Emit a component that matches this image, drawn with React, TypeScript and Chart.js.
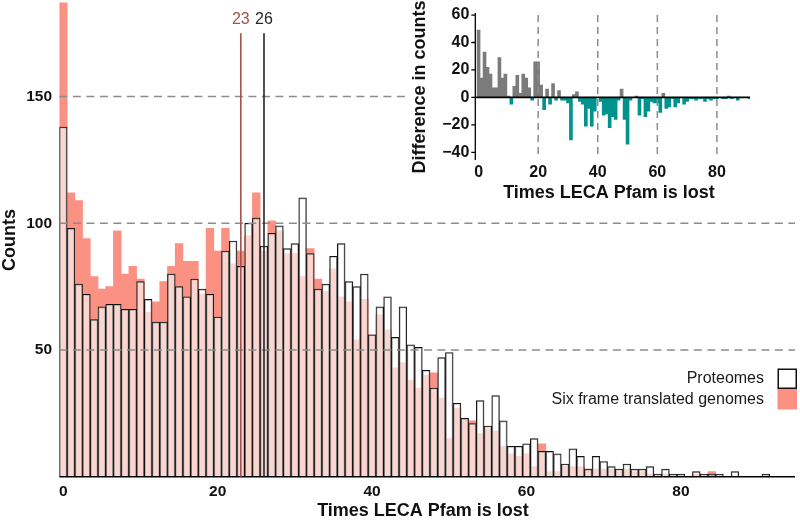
import React, { useEffect, useRef } from 'react';
import { Chart, registerables } from 'chart.js';

Chart.register(...registerables);

// ---------- data ----------
const bins = [
  0, 1, 2, 3, 4, 5, 6, 7, 8, 9, 10, 11, 12, 13, 14, 15, 16, 17, 18, 19,
  20, 21, 22, 23, 24, 25, 26, 27, 28, 29, 30, 31, 32, 33, 34, 35, 36, 37, 38, 39,
  40, 41, 42, 43, 44, 45, 46, 47, 48, 49, 50, 51, 52, 53, 54, 55, 56, 57, 58, 59,
  60, 61, 62, 63, 64, 65, 66, 67, 68, 69, 70, 71, 72, 73, 74, 75, 76, 77, 78, 79,
  80, 81, 82, 83, 84, 85, 86, 87, 88, 89, 90, 91,
];

const proteomes = [
  138, 98, 76, 72, 62, 67, 68, 68, 66, 66,
  77, 70, 61, 61, 80, 75, 71, 78, 74, 72,
  63, 89, 93, 83, 100, 102, 91, 96, 99, 90,
  92, 110, 88, 74, 76, 87, 92, 77, 75, 80,
  56, 67, 71, 55, 67, 52, 51, 42, 35, 47,
  49, 29, 23, 21, 30, 20, 32, 22, 12, 12,
  13, 15, 10, 10, 9, 5, 11, 8, 3, 8,
  6, 4, 3, 5, 3, 3, 4, 1, 3, 1,
  1, 0, 2, 1, 1, 1, 0, 2, 0, 0,
  0, 1,
];

const sixFrame = [
  187, 112, 109, 94, 79, 74, 75, 97, 80, 83,
  78, 65, 69, 77, 83, 92, 85, 85, 72, 98,
  89, 98, 84, 89, 95, 112, 89, 101, 97, 88,
  88, 79, 90, 78, 73, 82, 71, 69, 54, 70,
  56, 64, 58, 43, 45, 38, 35, 40, 41, 31,
  15, 27, 23, 22, 17, 19, 18, 12, 9, 8,
  9, 4, 13, 2, 2, 4, 4, 4, 3, 3,
  3, 3, 2, 3, 2, 2, 1, 0, 1, 0,
  0, 0, 1, 0, 2, 0, 0, 0, 0, 0,
  0, 0,
];

// inset: six frame minus proteomes
const difference = [
  49, 14, 33, 22, 17, 7, 7, 29, 14, 17,
  1, -5, 8, 16, 3, 17, 14, 7, -2, 26,
  26, 9, -9, 6, -5, 10, -2, 5, -2, -2,
  -4, -31, 2, 4, -3, -5, -21, -8, -21, -10,
  0, -3, -13, -12, -22, -14, -16, -2, 6, -16,
  -34, -2, 0, 1, -13, -1, -14, -10, -3, -4,
  -4, -11, 3, -8, -7, -1, -7, -4, 0, -5,
  -3, -1, -1, -2, -1, -1, -3, -1, -2, -1,
  -1, 0, -1, -1, 1, -1, 0, -2, 0, 0,
  0, -1,
];

const mainYTicks = [50, 100, 150];
const xTicks = [0, 20, 40, 60, 80];
const insetYTicks = [60, 40, 20, 0, -20, -40];
const medians = [
  { value: 23, label: '23', color: '#a4514a' },
  { value: 26, label: '26', color: '#262626' },
];
const legendItems = [
  { label: 'Proteomes', fill: '#ffffff', stroke: '#111111' },
  { label: 'Six frame translated genomes', fill: 'rgb(250,145,130)', stroke: null },
];

const FONT = '"Liberation Sans", Arial, Helvetica, sans-serif';
const SALMON = 'rgb(250,145,130)';
const OVERLAY = 'rgba(255,255,255,0.62)';
const GRID = '#8c8c8c';
const TEXT = '#111111';

function drawText(ctx: any, str: string, x: number, y: number, font: string, color: string, align: string = 'center', rot: number = 0) {
  ctx.save();
  ctx.font = font;
  ctx.fillStyle = color;
  ctx.textAlign = align;
  ctx.textBaseline = 'middle';
  ctx.translate(x, y);
  if (rot) ctx.rotate(rot);
  ctx.fillText(str, 0, 0);
  ctx.restore();
}

const mainDecor = {
  id: 'mainDecor',
  afterDatasetsDraw(chart: any) {
    const { ctx, chartArea: a, scales } = chart;
    const x = scales.x;
    const y = scales.y;
    ctx.save();
    // dashed horizontal reference lines
    ctx.strokeStyle = GRID;
    ctx.lineWidth = 1.5;
    ctx.setLineDash([8, 5.5]);
    for (const v of mainYTicks) {
      const py = y.getPixelForValue(v);
      ctx.beginPath();
      ctx.moveTo(a.left, py);
      ctx.lineTo(a.right, py);
      ctx.stroke();
    }
    ctx.setLineDash([]);
    // x axis line
    const y0 = y.getPixelForValue(0);
    ctx.strokeStyle = '#000';
    ctx.lineWidth = 1.5;
    ctx.beginPath();
    ctx.moveTo(a.left, y0);
    ctx.lineTo(a.right, y0);
    ctx.stroke();
    // median lines
    for (const m of medians) {
      const px = x.getPixelForValue(m.value);
      ctx.strokeStyle = m.color;
      ctx.lineWidth = 1.6;
      ctx.beginPath();
      ctx.moveTo(px, y.getPixelForValue(175));
      ctx.lineTo(px, y0);
      ctx.stroke();
      drawText(ctx, m.label, px, y.getPixelForValue(180.5), `16px ${FONT}`, m.color);
    }
    ctx.restore();

    // tick labels
    for (const v of mainYTicks) {
      drawText(ctx, String(v), 52, y.getPixelForValue(v), `bold 15.5px ${FONT}`, TEXT, 'right');
    }
    for (const v of xTicks) {
      drawText(ctx, String(v), x.getPixelForValue(v), 492, `bold 15.5px ${FONT}`, TEXT);
    }
    drawText(ctx, 'Times LECA Pfam is lost', 423, 511, `bold 18px ${FONT}`, TEXT);
    drawText(ctx, 'Counts', 10, 240, `bold 18px ${FONT}`, TEXT, 'center', -Math.PI / 2);

    // legend
    const boxX = 777.5;
    const boxW = 19.5;
    const boxH = 20.5;
    legendItems.forEach((it, i) => {
      const top = 368.5 + i * boxH;
      ctx.save();
      ctx.fillStyle = it.fill;
      ctx.fillRect(boxX, top, boxW, boxH);
      if (it.stroke) {
        ctx.strokeStyle = it.stroke;
        ctx.lineWidth = 1.5;
        ctx.strokeRect(boxX + 0.75, top + 0.75, boxW - 1.5, boxH - 1.5);
      }
      ctx.restore();
      drawText(ctx, it.label, 764, top + boxH / 2, `16px ${FONT}`, '#1a1a1a', 'right');
    });
  },
};

const insetDecor = {
  id: 'insetDecor',
  afterDatasetsDraw(chart: any) {
    const { ctx, chartArea: a, scales } = chart;
    const x = scales.x;
    const y = scales.y;
    ctx.save();
    ctx.strokeStyle = GRID;
    ctx.lineWidth = 1.5;
    ctx.setLineDash([7, 5]);
    for (const v of xTicks) {
      if (v === 0) continue;
      const px = x.getPixelForValue(v);
      ctx.beginPath();
      ctx.moveTo(px, a.top + 2);
      ctx.lineTo(px, a.bottom - 4);
      ctx.stroke();
    }
    ctx.setLineDash([]);
    ctx.strokeStyle = '#000';
    ctx.lineWidth = 1.6;
    const y0 = y.getPixelForValue(0);
    ctx.beginPath();
    ctx.moveTo(a.left, y0);
    ctx.lineTo(a.right, y0);
    ctx.stroke();
    // y axis with ticks
    ctx.lineWidth = 1.3;
    ctx.beginPath();
    ctx.moveTo(a.left, a.top);
    ctx.lineTo(a.left, a.bottom);
    for (const v of insetYTicks) {
      const py = y.getPixelForValue(v);
      ctx.moveTo(a.left - 4, py);
      ctx.lineTo(a.left, py);
    }
    ctx.stroke();
    ctx.restore();

    for (const v of insetYTicks) {
      const lbl = v < 0 ? '\u2212' + String(-v) : String(v);
      drawText(ctx, lbl, a.left - 6, y.getPixelForValue(v), `bold 16px ${FONT}`, TEXT, 'right');
    }
    for (const v of xTicks) {
      drawText(ctx, String(v), x.getPixelForValue(v), 173, `bold 16px ${FONT}`, TEXT);
    }
    drawText(ctx, 'Times LECA Pfam is lost', 199, 193.5, `bold 18px ${FONT}`, TEXT);
    drawText(ctx, 'Difference in counts', 10.5, 87, `bold 18px ${FONT}`, TEXT, 'center', -Math.PI / 2);
  },
};

function onlyTicks(values: number[]) {
  return (scale: any) => {
    scale.ticks = values.map((v) => ({ value: v }));
  };
}

export default function App() {
  const mainRef = useRef<HTMLCanvasElement>(null);
  const insetRef = useRef<HTMLCanvasElement>(null);

  useEffect(() => {
    const main = new Chart(mainRef.current as HTMLCanvasElement, {
      type: 'bar',
      data: {
        datasets: [
          {
            label: 'Proteomes',
            data: bins.map((b, i) => ({ x: b, y: proteomes[i] })),
            backgroundColor: OVERLAY,
            borderColor: '#111111',
            borderWidth: 1,
            borderSkipped: 'start',
            order: 0,
            grouped: false,
            barPercentage: 1,
            categoryPercentage: 1,
          } as any,
          {
            label: 'Six frame translated genomes',
            data: bins.map((b, i) => ({ x: b, y: sixFrame[i] })),
            backgroundColor: SALMON,
            borderWidth: 0,
            order: 1,
            grouped: false,
            barPercentage: 1,
            categoryPercentage: 1,
          } as any,
        ],
      },
      options: {
        animation: false,
        responsive: false,
        events: [],
        layout: { padding: { left: 59.4, right: 5, top: 0, bottom: 43.3 } },
        plugins: { legend: { display: false }, tooltip: { enabled: false } },
        scales: {
          x: { type: 'linear', offset: false, min: -0.5, max: 94.78, display: false, afterBuildTicks: onlyTicks(xTicks) },
          y: { type: 'linear', min: 0, max: 188.1, display: false, afterBuildTicks: onlyTicks(mainYTicks) },
        },
      } as any,
      plugins: [mainDecor],
    });

    const inset = new Chart(insetRef.current as HTMLCanvasElement, {
      type: 'bar',
      data: {
        datasets: [
          {
            label: 'Difference',
            data: bins.map((b, i) => ({ x: b, y: difference[i] })),
            backgroundColor: difference.map((d) => (d >= 0 ? '#7b7b7b' : '#00938e')),
            borderWidth: 0,
            barPercentage: 1,
            categoryPercentage: 1,
          } as any,
        ],
      },
      options: {
        animation: false,
        responsive: false,
        events: [],
        layout: { padding: { left: 65.3, right: 50, top: 13, bottom: 46 } },
        plugins: { legend: { display: false }, tooltip: { enabled: false } },
        scales: {
          x: { type: 'linear', offset: false, min: -1.1, max: 91.1, display: false, afterBuildTicks: onlyTicks(xTicks) },
          y: { type: 'linear', min: -45.6, max: 61.5, display: false, afterBuildTicks: onlyTicks(insetYTicks) },
        },
      } as any,
      plugins: [insetDecor],
    });

    return () => {
      main.destroy();
      inset.destroy();
    };
  }, []);

  return (
    <div style={{ position: 'fixed', left: 0, top: 0, width: 800, height: 520, background: '#ffffff' }}>
      <canvas ref={mainRef} width={800} height={520} style={{ position: 'absolute', left: 0, top: 0 }} />
      <canvas
        ref={insetRef}
        width={390}
        height={206}
        style={{ position: 'absolute', left: 410, top: 0, background: '#ffffff' }}
      />
    </div>
  );
}
